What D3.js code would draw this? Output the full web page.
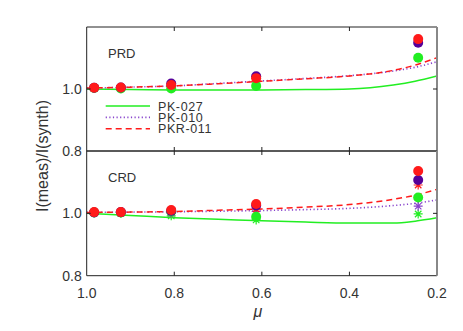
<!DOCTYPE html>
<html><head><meta charset="utf-8">
<script src="https://cdn.jsdelivr.net/npm/d3@7"></script>
<style>body{margin:0;background:#fff}svg{display:block;font-family:"Liberation Sans",Arial,sans-serif}</style>
</head><body><svg id="c" width="463" height="331"></svg>
<script>
// ---- data ----
const muLine = [1.0, 0.9, 0.8, 0.7, 0.6, 0.5, 0.4, 0.3, 0.25, 0.2];
const prdLineGreen  = [1.000, 0.998, 0.997, 0.997, 0.997, 0.998, 1.000, 1.013, 1.025, 1.042];
const prdLinePurple = [1.003, 1.006, 1.010, 1.018, 1.026, 1.034, 1.043, 1.058, 1.070, 1.088];
const prdLineRed    = [1.003, 1.006, 1.010, 1.017, 1.025, 1.033, 1.042, 1.060, 1.077, 1.101];
const crdLineGreen  = [1.000, 0.993, 0.986, 0.981, 0.976, 0.972, 0.969, 0.969, 0.975, 0.986];
const crdLinePurple = [1.003, 1.004, 1.005, 1.007, 1.009, 1.012, 1.016, 1.025, 1.032, 1.043];
const crdLineRed    = [1.003, 1.004, 1.006, 1.010, 1.014, 1.020, 1.028, 1.045, 1.058, 1.077];

const muObs = [0.983, 0.922, 0.807, 0.613, 0.243];
const prdDotGreen  = [1.003, 1.002, 1.002, 1.010, 1.101];
const prdDotPurple = [1.004, 1.005, 1.018, 1.041, 1.149];
const prdDotRed    = [1.004, 1.005, 1.013, 1.035, 1.161];
const crdDotGreen  = [1.003, 1.003, 1.006, 0.989, 1.051];
const crdDotPurple = [1.003, 1.004, 1.008, 1.025, 1.107];
const crdDotRed    = [1.004, 1.004, 1.011, 1.030, 1.136];
const crdStarGreen  = [1.002, 1.000, 0.992, 0.979, 0.998];
const crdStarPurple = [1.003, 1.002, 1.000, 1.006, 1.023];
const crdStarRed    = [1.004, 1.004, 1.004, 1.014, 1.091];

const legendLabels = ["PK-027", "PK-010", "PKR-011"];
const xTicks = [1.0, 0.8, 0.6, 0.4, 0.2];
const yTicks = [0.8, 1.0, 1.2];
const yTickLabels = [0.8, 1.0];

// ---- layout ----
const C = {green:"#22ee22", purple:"#8844cc", purpleDot:"#550099", red:"#ff1a1a"};
const TXT = "#333";
const svg = d3.select("#c");
const L = 86.7, R = 437, T1 = 27, B1 = 151, B2 = 275.7;
const x = d3.scaleLinear().domain([1.0, 0.2]).range([L, R]);
const y1 = d3.scaleLinear().domain([0.8, 1.2]).range([B1, T1]);
const y2 = d3.scaleLinear().domain([0.8, 1.2]).range([B2, B1]);

const styles = [
  {c:C.green, dash:null, w:1.5},
  {c:C.purple, dash:"1.2,2.4", w:1.6},
  {c:C.red, dash:"6,4", w:1.5}
];

function starPath(s){
  const a = s/2, d = a*0.72;
  return `M${-a},0L${a},0M0,${-a}L0,${a}M${-d},${-d}L${d},${d}M${-d},${d}L${d},${-d}`;
}

function panel(y, lines, dots, stars, label, labelY){
  const g = svg.append("g");
  const clip = "clip"+label;
  svg.append("clipPath").attr("id", clip).append("rect")
    .attr("x", L).attr("y", y.range()[1]).attr("width", R-L).attr("height", y.range()[0]-y.range()[1]);
  const lg = g.append("g").attr("clip-path", `url(#${clip})`);
  lines.forEach((vals, i) => {
    const line = d3.line().x((d,j)=>x(muLine[j])).y(d=>y(d)).curve(d3.curveMonotoneX);
    lg.append("path").attr("d", line(vals)).attr("fill","none")
      .attr("stroke", styles[i].c).attr("stroke-width", styles[i].w)
      .attr("stroke-dasharray", styles[i].dash);
  });
  const dotCols = [C.green, C.purpleDot, C.red];
  if (stars) stars.forEach((vals, i) => {
    g.selectAll(null).data(vals).enter().append("path")
      .attr("d", starPath(9)).attr("transform", (d,j)=>`translate(${x(muObs[j])},${y(d)})`)
      .attr("stroke", i===1 ? C.purple : dotCols[i]).attr("stroke-width", 1.2).attr("fill","none");
  });
  dots.forEach((vals, i) => {
    g.selectAll(null).data(vals).enter().append("circle")
      .attr("cx", (d,j)=>x(muObs[j])).attr("cy", d=>y(d)).attr("r", 5)
      .attr("fill", dotCols[i]);
  });
  // frame
  const top = y.range()[1], bot = y.range()[0];
  g.append("line").attr("x1",L).attr("x2",R).attr("y1",top).attr("y2",top).attr("stroke","#222").attr("stroke-width",1);
  g.append("line").attr("x1",L).attr("x2",R).attr("y1",bot).attr("y2",bot).attr("stroke","#222").attr("stroke-width",1);
  g.append("line").attr("x1",L).attr("x2",L).attr("y1",top).attr("y2",bot).attr("stroke","#222").attr("stroke-width",1);
  g.append("line").attr("x1",R).attr("x2",R).attr("y1",top).attr("y2",bot).attr("stroke","#888").attr("stroke-width",2);
  // x ticks (top and bottom, inward)
  xTicks.slice(1,-1).forEach(t => {
    g.append("line").attr("x1",x(t)).attr("x2",x(t)).attr("y1",top).attr("y2",top+4).attr("stroke","#222");
    g.append("line").attr("x1",x(t)).attr("x2",x(t)).attr("y1",bot).attr("y2",bot-4).attr("stroke","#222");
  });
  // y ticks
  yTicks.slice(1,-1).forEach(t => {
    g.append("line").attr("x1",L).attr("x2",L+4).attr("y1",y(t)).attr("y2",y(t)).attr("stroke","#222");
    g.append("line").attr("x1",R).attr("x2",R-4).attr("y1",y(t)).attr("y2",y(t)).attr("stroke","#222");
  });
  yTickLabels.forEach(t => {
    g.append("text").attr("x", L-5).attr("y", y(t)).attr("dy","0.36em").attr("text-anchor","end")
      .attr("font-size",14).attr("fill",TXT).text(d3.format(".1f")(t));
  });
  g.append("text").attr("x",108).attr("y",labelY).attr("font-size",13).attr("fill",TXT).text(label);
}

panel(y1, [prdLineGreen, prdLinePurple, prdLineRed], [prdDotGreen, prdDotPurple, prdDotRed], null, "PRD", 58);
panel(y2, [crdLineGreen, crdLinePurple, crdLineRed], [crdDotGreen, crdDotPurple, crdDotRed], [crdStarGreen, crdStarPurple, crdStarRed], "CRD", 182);

// x tick labels
xTicks.forEach(t => {
  svg.append("text").attr("x", x(t)).attr("y", 297.5).attr("text-anchor","middle")
    .attr("font-size",14).attr("fill",TXT).text(d3.format(".1f")(t));
});
svg.append("text").attr("x",258).attr("y",317).attr("text-anchor","middle")
  .attr("font-size",16).attr("font-style","italic").attr("fill",TXT).text("μ");
svg.append("text").attr("transform","translate(48,156) rotate(-90)").attr("text-anchor","middle")
  .attr("font-size",16).attr("fill",TXT).text("I(meas)/I(synth)");

// legend
legendLabels.forEach((lab, i) => {
  const ly = 106 + i*11.4;
  svg.append("line").attr("x1",105.7).attr("x2",150).attr("y1",ly).attr("y2",ly)
    .attr("stroke", styles[i].c).attr("stroke-width", styles[i].w).attr("stroke-dasharray", styles[i].dash);
  svg.append("text").attr("x",158).attr("y",ly).attr("dy","0.36em").attr("font-size",12.5)
    .attr("letter-spacing",0.6).attr("fill",TXT).text(lab);
});
</script></body></html>
